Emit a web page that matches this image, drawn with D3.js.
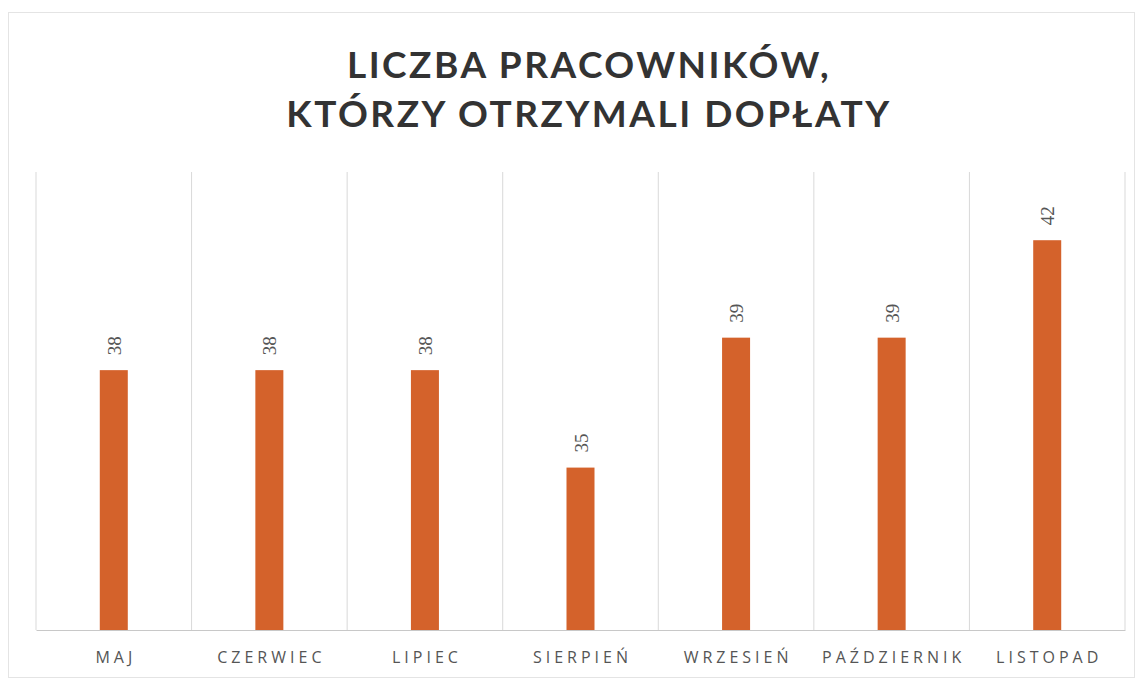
<!DOCTYPE html>
<html>
<head>
<meta charset="utf-8">
<script src="https://cdn.jsdelivr.net/npm/d3@7"></script>
<style>
  body { margin: 0; background: #fff; }
</style>
</head>
<body>
<svg id="chart" width="1139" height="683"></svg>
<script>
// dane
const months = ["MAJ", "CZERWIEC", "LIPIEC", "SIERPIEŃ", "WRZESIEŃ", "PAŹDZIERNIK", "LISTOPAD"];
const workers = [38, 38, 38, 35, 39, 39, 42];
const titleLines = ["LICZBA PRACOWNIKÓW,", "KTÓRZY OTRZYMALI DOPŁATY"];

function drawChart() {
    const svg = d3.select("#chart");
    const margin = { top: 172, right: 14, bottom: 53, left: 36 };
    const width = 1139 - margin.left - margin.right;
    const height = 683 - margin.top - margin.bottom;

    svg.selectAll("*").remove();

    // ramka
    svg.append("rect")
        .attr("x", 8.5).attr("y", 12.5)
        .attr("width", 1126).attr("height", 665)
        .attr("fill", "none")
        .attr("stroke", "#e4e4e4")
        .attr("stroke-width", 1);

    const chart = svg.append("g")
        .attr("transform", `translate(${margin.left},${margin.top})`);

    const xScale = d3.scaleBand()
        .domain(months)
        .range([0, width])
        .paddingInner(0.82)
        .paddingOuter(0.41);

    const yScale = d3.scaleLinear()
        .domain([30, 44.1])
        .range([height, 0]);

    // linie siatki między kategoriami
    const step = xScale.step();
    const bounds = d3.range(months.length + 1).map(i => i * step);
    chart.selectAll(".grid")
        .data(bounds)
        .enter().append("line")
        .attr("class", "grid")
        .attr("x1", d => d).attr("x2", d => d)
        .attr("y1", 0).attr("y2", height)
        .attr("stroke", "#d9d9d9")
        .attr("stroke-width", 1);

    // słupki
    chart.selectAll(".bar")
        .data(workers)
        .enter().append("rect")
        .attr("class", "bar")
        .attr("x", (_, i) => xScale(months[i]))
        .attr("y", d => yScale(d))
        .attr("width", xScale.bandwidth())
        .attr("height", d => height - yScale(d))
        .attr("fill", "#d4622b");

    // oś X
    const xAxis = chart.append("g")
        .attr("transform", `translate(0,${height})`)
        .call(d3.axisBottom(xScale).tickSize(0).tickPadding(22));
    xAxis.select(".domain").attr("stroke", "#c8c8c8");
    xAxis.selectAll("text")
        .attr("fill", "#555")
        .attr("dx", "2px")
        .style("font-family", "'Open Sans', sans-serif")
        .style("font-size", "16px")
        .style("letter-spacing", "4px");

    // etykiety wartości
    chart.selectAll(".label")
        .data(workers)
        .enter().append("text")
        .attr("class", "label")
        .attr("transform", (d, i) =>
            `translate(${xScale(months[i]) + xScale.bandwidth() / 2 + 7},${yScale(d) - 15}) rotate(-90)`)
        .attr("text-anchor", "start")
        .attr("fill", "#555")
        .style("font-family", "'Liberation Serif', 'DejaVu Serif', serif")
        .style("font-size", "19px")
        .text(d => d);

    // tytuł
    svg.selectAll(".title")
        .data(titleLines)
        .enter().append("text")
        .attr("class", "title")
        .attr("x", 589)
        .attr("y", (_, i) => 78 + i * 49)
        .attr("text-anchor", "middle")
        .attr("fill", "#333")
        .style("font-family", "Lato, sans-serif")
        .style("font-weight", "bold")
        .style("font-size", "37px")
        .style("letter-spacing", "2.5px")
        .text(d => d);
}

drawChart();
</script>
</body>
</html>
